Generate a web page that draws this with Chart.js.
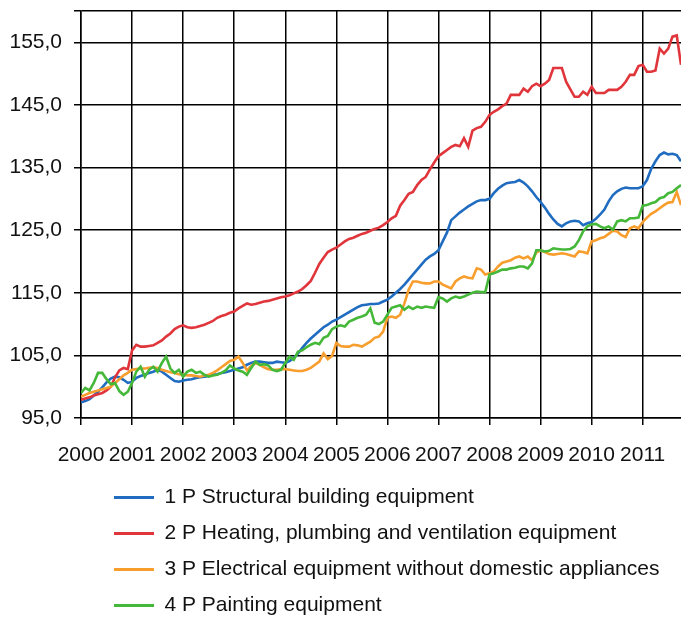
<!DOCTYPE html>
<html>
<head>
<meta charset="utf-8">
<script src="https://cdn.jsdelivr.net/npm/chart.js@4"></script>
<style>
  body { margin: 0; background: #fff; overflow: hidden; }
  #wrap { width: 681px; height: 621px; }
</style>
</head>
<body>
<div id="wrap"><canvas id="chart"></canvas></div>
<script>
/* Monthly index, Jan 2000 - Oct 2011 */
var startYear = 2000;
var yearLabels = ['2000', '2001', '2002', '2003', '2004', '2005', '2006', '2007', '2008', '2009', '2010', '2011'];
var yTicks = [95, 105, 115, 125, 135, 145, 155];

var names = [
    '1 P Structural building equipment',
    '2 P Heating, plumbing and ventilation equipment',
    '3 P Electrical equipment without domestic appliances',
    '4 P Painting equipment'
];
var colors = ['#1f6cc0', '#e0353b', '#f89e2e', '#45b83a'];

var structural = [
    97.5, 97.7, 98.0, 98.6, 99.2, 99.9, 100.7, 101.3, 101.6, 101.5, 101.1, 100.6,
    100.8, 101.4, 101.7, 101.9, 102.2, 102.4, 102.7, 102.4, 101.9, 101.4, 100.9, 100.8,
    101.0, 101.1, 101.2, 101.4, 101.5, 101.6, 101.7, 101.9, 102.0, 102.2, 102.3, 102.5,
    102.7, 102.9, 103.1, 103.5, 103.8, 104.0, 104.0, 103.9, 103.8, 103.8, 104.0, 103.9,
    103.8, 104.1, 104.6, 105.3, 106.2, 107.0, 107.7, 108.3, 108.9, 109.5, 109.9, 110.4,
    110.7, 111.1, 111.5, 111.9, 112.3, 112.7, 113.0, 113.1, 113.2, 113.2, 113.3, 113.6,
    113.9, 114.4, 115.0, 115.6, 116.3, 117.1, 117.9, 118.7, 119.5, 120.3, 120.8, 121.2,
    121.8, 123.2, 124.6, 126.6, 127.2, 127.8, 128.3, 128.8, 129.2, 129.6, 129.8, 129.8,
    130.0, 130.9, 131.6, 132.1, 132.5, 132.6, 132.7, 133.0, 132.6, 132.0, 131.2, 130.3,
    129.5, 128.6, 127.6, 126.7, 126.0, 125.6, 126.1, 126.4, 126.5, 126.4, 125.8, 126.1,
    126.3, 126.8, 127.5, 128.3, 129.6, 130.6, 131.2, 131.6, 131.8, 131.7, 131.7, 131.7,
    132.0, 133.0, 134.8, 136.0, 137.0, 137.4, 137.1, 137.2, 137.0, 136.0
];
var heating = [
    97.9, 98.1, 98.3, 98.6, 98.8, 99.0, 99.4, 100.0, 101.5, 102.6, 103.0, 102.8,
    105.8, 106.7, 106.4, 106.4, 106.5, 106.6, 107.0, 107.4, 108.0, 108.5, 109.2, 109.6,
    109.8, 109.5, 109.4, 109.5, 109.7, 109.9, 110.2, 110.5, 111.0, 111.3, 111.5, 111.8,
    112.0, 112.5, 112.9, 113.3, 113.1, 113.2, 113.4, 113.6, 113.7, 113.9, 114.1, 114.3,
    114.4, 114.6, 114.9, 115.2, 115.6, 116.2, 116.9, 118.2, 119.6, 120.6, 121.5, 121.9,
    122.2, 122.7, 123.2, 123.6, 123.8, 124.1, 124.4, 124.6, 124.9, 125.2, 125.4, 125.8,
    126.3, 126.9, 127.3, 128.9, 129.8, 130.8, 131.1, 132.2, 133.0, 133.5, 134.7, 135.8,
    136.8, 137.3, 137.8, 138.3, 138.6, 138.4, 139.7, 138.3, 140.9, 141.3, 141.5, 142.3,
    143.4, 143.9, 144.3, 144.8, 145.2, 146.6, 146.6, 146.6, 147.6, 147.1, 148.0, 148.4,
    148.0, 148.4, 149.0, 150.9, 150.9, 150.9, 148.7, 147.5, 146.3, 146.3, 147.1, 146.6,
    147.9, 146.9, 146.9, 146.9, 147.4, 147.4, 147.4, 147.9, 148.7, 149.8, 149.8, 151.2,
    151.4, 150.3, 150.3, 150.5, 154.0, 153.2, 154.0, 155.9, 156.1, 151.4
];
var electrical = [
    98.4, 98.7, 99.0, 99.2, 99.4, 99.6, 99.8, 100.0, 100.6, 101.2, 101.8, 102.2,
    102.7, 102.8, 102.9, 102.9, 103.0, 103.1, 103.0, 102.7, 102.5, 102.3, 102.2, 102.0,
    101.9, 101.8, 101.8, 101.7, 101.6, 101.8, 101.9, 102.2, 102.6, 103.1, 103.6, 104.1,
    104.3, 104.8, 103.8, 102.6, 103.3, 103.8, 103.5, 103.1, 102.8, 102.7, 102.7, 102.8,
    102.8, 102.7, 102.6, 102.5, 102.5, 102.7, 103.0, 103.5, 104.0, 105.3, 104.4, 104.9,
    107.0, 106.5, 106.4, 106.4, 106.7, 106.6, 106.4, 106.8, 107.2, 107.8, 108.0, 108.8,
    111.0, 111.2, 111.0, 111.5, 113.3, 115.5, 116.8, 116.8, 116.6, 116.5, 116.5, 116.8,
    116.8, 116.3, 116.0, 115.7, 116.8, 117.3, 117.6, 117.4, 117.3, 118.9, 118.7, 117.9,
    118.1, 118.4, 119.2, 119.8, 120.0, 120.2, 120.6, 120.8, 120.5, 120.8, 120.2, 121.4,
    121.8, 121.5, 121.2, 121.1, 121.2, 121.3, 121.2, 121.0, 120.8, 121.6, 121.5, 121.3,
    123.2, 123.4, 123.7, 123.9, 124.4, 124.9, 124.8, 124.2, 123.9, 125.3, 125.6, 125.3,
    126.3, 127.0, 127.6, 128.0, 128.5, 129.0, 129.4, 129.5, 131.1, 129.0
];
var painting = [
    99.0, 99.8, 99.4, 100.6, 102.2, 102.2, 101.2, 100.4, 100.6, 99.3, 98.7, 99.2,
    100.6, 102.4, 103.2, 101.6, 102.7, 103.2, 102.4, 103.8, 104.8, 102.9, 102.2, 102.7,
    101.6, 102.4, 102.7, 102.2, 102.4, 101.9, 101.6, 101.8, 101.9, 102.2, 102.6, 103.4,
    102.9, 102.6, 102.4, 101.9, 103.0, 104.0, 103.5, 103.6, 103.4, 102.7, 102.5, 102.7,
    103.8, 104.8, 104.3, 105.6, 105.8, 106.3, 106.7, 107.0, 106.8, 107.8, 108.1, 109.2,
    109.6, 109.8, 109.6, 110.4, 110.7, 111.0, 111.2, 111.5, 112.5, 110.2, 110.0, 110.4,
    111.5, 112.6, 112.8, 113.0, 112.3, 112.8, 112.4, 112.8, 112.6, 112.8, 112.7, 112.6,
    114.3, 114.1, 113.6, 114.1, 114.4, 114.2, 114.4, 114.7, 115.0, 115.2, 115.1, 115.1,
    117.9, 118.1, 118.4, 118.7, 118.7, 118.9, 119.0, 119.2, 119.2, 118.9, 119.7, 121.8,
    121.8, 121.6, 121.7, 122.1, 122.0, 121.9, 121.9, 122.0, 122.4, 123.4, 124.8, 125.6,
    125.9, 126.0, 125.6, 125.3, 125.6, 125.1, 126.4, 126.6, 126.4, 126.9, 126.9, 127.0,
    128.9, 129.0, 129.3, 129.5, 130.1, 130.3, 130.9, 131.1, 131.7, 132.2
];

var series = [structural, heating, electrical, painting];

function toPoints(values) {
    return values.map(function (v, i) {
        return { x: startYear + i / 12, y: v };
    });
}

Chart.defaults.font.family = "'Liberation Sans', Arial, sans-serif";
Chart.defaults.color = '#111';

/* legend sits under the plot, indented like the original */
var legendShift = {
    id: 'legendShift',
    afterLayout: function (chart) {
        chart.legend.left += 99;
        chart.legend.top += 5;
    }
};

var ctx = document.getElementById('chart').getContext('2d');
var chart = new Chart(ctx, {
    type: 'line',
    data: {
        datasets: series.map(function (s, i) {
            return {
                label: names[i],
                data: toPoints(s),
                borderColor: colors[i],
                backgroundColor: colors[i],
                borderWidth: 2.6,
                pointRadius: 0,
                tension: 0,
                order: 4 - i
            };
        })
    },
    options: {
        responsive: true,
        maintainAspectRatio: false,
        animation: false,
        layout: { padding: { top: 11, left: 0, right: 0, bottom: 0 } },
        scales: {
            x: {
                type: 'linear',
                min: 2000,
                max: 2011.75,
                afterBuildTicks: function (scale) {
                    scale.ticks = yearLabels.map(function (y) { return { value: +y }; });
                },
                afterFit: function (scale) {
                    scale.height = 49;
                    scale.paddingLeft = 0;
                    scale.paddingRight = 0;
                },
                grid: { color: '#000', lineWidth: 1.5, tickLength: 7 },
                border: { color: '#000', width: 1.5 },
                ticks: {
                    font: { size: 21 },
                    padding: 18,
                    maxRotation: 0,
                    callback: function (v) { return String(v); }
                }
            },
            y: {
                min: 95,
                max: 160,
                afterBuildTicks: function (scale) {
                    scale.ticks = yTicks.concat([160]).map(function (v) { return { value: v }; });
                },
                afterFit: function (scale) {
                    scale.width = 81;
                    scale.paddingTop = 0;
                    scale.paddingBottom = 0;
                },
                grid: { color: '#000', lineWidth: 1.5, tickLength: 7 },
                border: { color: '#000', width: 1.5 },
                ticks: {
                    font: { size: 21 },
                    padding: 12,
                    callback: function (v) {
                        return yTicks.indexOf(v) >= 0 ? v.toFixed(1).replace('.', ',') : '';
                    }
                }
            }
        },
        plugins: {
            tooltip: { enabled: false },
            legend: {
                position: 'bottom',
                align: 'start',
                labels: {
                    font: { size: 21 },
                    boxWidth: 40,
                    boxHeight: 3,
                    padding: 15,
                    color: '#111',
                    sort: function (a, b) { return a.datasetIndex - b.datasetIndex; },
                    generateLabels: function (chart) {
                        var items = Chart.defaults.plugins.legend.labels.generateLabels(chart);
                        items.forEach(function (item) { item.lineWidth = 0; });
                        return items;
                    }
                }
            }
        }
    },
    plugins: [legendShift]
});
</script>
</body>
</html>
